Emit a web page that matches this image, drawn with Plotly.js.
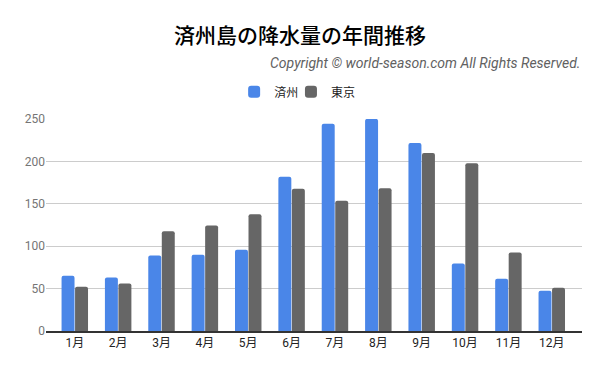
<!DOCTYPE html>
<html>
<head>
<meta charset="utf-8">
<script src="https://cdn.plot.ly/plotly-3.0.1.min.js"></script>
<style>html,body{margin:0;padding:0;background:#fff;}#chart{width:600px;height:371px;}</style>
</head>
<body>
<div id="chart"></div>
<script>
const months = ["1月","2月","3月","4月","5月","6月","7月","8月","9月","10月","11月","12月"];
const jeju = [65.3, 63.2, 88.9, 89.8, 95.9, 181.9, 244.3, 250.1, 221.8, 79.5, 61.5, 47.6];
const tokyo = [52.3, 56.1, 117.5, 124.5, 137.8, 167.7, 153.5, 168.2, 209.9, 197.8, 92.5, 51.0];
const yTicks = [0, 50, 100, 150, 200, 250];

const traces = [
  {type:"bar", name:"済州", x:months, y:jeju, marker:{color:"#4a86e8", cornerradius:2}, legend:"legend"},
  {type:"bar", name:"東京", x:months, y:tokyo, marker:{color:"#666666", cornerradius:2}, legend:"legend2"}
];
const legendStyle = {orientation:"h", xanchor:"left", y:1.128, yanchor:"middle",
  font:{size:12, color:"#222"}, itemwidth:30, bgcolor:"rgba(0,0,0,0)"};
const layout = {
  width:600, height:371,
  margin:{l:46, r:18, t:119, b:40},
  paper_bgcolor:"#fff", plot_bgcolor:"#fff",
  font:{family:"Roboto, 'Noto Sans CJK JP', sans-serif"},
  title:{text:"済州島の降水量の年間推移", x:0.5, xanchor:"center", y:0.905, yanchor:"middle",
         font:{size:21, color:"#000", weight:500, family:"'Noto Sans CJK JP', sans-serif"}},
  barmode:"group", bargap:0.377, bargroupgap:0.04,
  xaxis:{type:"category", range:[-0.664, 11.697], tickfont:{size:12, color:"#222"}, showline:true, linecolor:"#333", linewidth:1.5,
         ticks:"", fixedrange:true},
  yaxis:{range:[0,250], tickvals:yTicks, ticktext:yTicks.map(String), tickfont:{size:12, color:"#757575"},
         gridcolor:"#cccccc", gridwidth:1, zeroline:false, ticks:"", ticklen:0, fixedrange:true},
  showlegend:true,
  legend: Object.assign({}, legendStyle, {x:0.351}),
  legend2: Object.assign({}, legendStyle, {x:0.457}),
  annotations:[{text:"<i>Copyright © world-season.com All Rights Reserved.</i>", xref:"paper", yref:"paper",
    x:1, xanchor:"right", y:1.265, yanchor:"middle", showarrow:false,
    font:{size:14, color:"#616161", family:"Roboto, sans-serif"}}]
};
Plotly.newPlot("chart", traces, layout, {displayModeBar:false, staticPlot:true});
</script>
</body>
</html>
